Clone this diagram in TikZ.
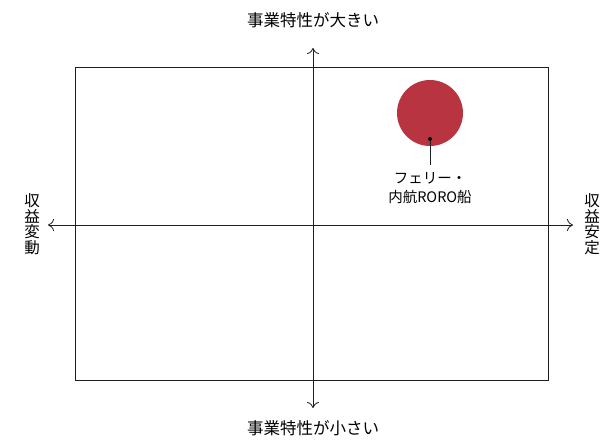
\documentclass[tikz,border=0pt]{standalone}
\usepackage{fontspec}
\setmainfont{Noto Sans CJK JP}
\usetikzlibrary{arrows.meta}
\definecolor{circred}{RGB}{183,52,64}
\definecolor{linegray}{RGB}{30,30,30}
\begin{document}
\begin{tikzpicture}[x=1pt,y=-1pt,
  axis/.style={draw=linegray,line width=0.8pt,-{To[length=6pt,width=12pt]}},
  frame/.style={draw=linegray,line width=0.8pt},
  axlabel/.style={font=\fontsize{16.5}{18}\selectfont,inner sep=0pt},
  vlabel/.style={font=\fontsize{15.5}{15.5}\selectfont,align=center,inner sep=0pt},
  itemlabel/.style={font=\fontsize{14.5}{19}\selectfont,align=center,inner sep=0pt}]
\useasboundingbox (0,0) rectangle (602,439);
\node[frame,minimum width=473pt,minimum height=313pt,inner sep=0pt] (box) at (311.5,223.5) {};
\coordinate (c) at (313,225);
\coordinate (top) at (313,48);
\coordinate (bot) at (313,408);
\coordinate (lft) at (48,225);
\coordinate (rgt) at (573,225);
\draw[axis] (c) -- (top);
\draw[axis] (c) -- (bot);
\draw[axis] (c) -- (lft);
\draw[axis] (c) -- (rgt);
\node[axlabel] (tl) at (313,20) {事業特性が大きい};
\node[axlabel] (bl) at (313,428) {事業特性が小さい};
\node[vlabel] (ll) at (32,224) {収\\益\\変\\動};
\node[vlabel] (rl) at (592,224) {収\\益\\安\\定};
\node[circle,fill=circred,minimum size=66pt,inner sep=0pt] (ferry) at (430,113) {};
\node[circle,fill=black,minimum size=4pt,inner sep=0pt] (dot) at (430,139) {};
\node[itemlabel] (lab) at (430,188) {フェリー・\\内航RORO船};
\draw[linegray,line width=1pt] (dot) -- (430,165);
\end{tikzpicture}
\end{document}
